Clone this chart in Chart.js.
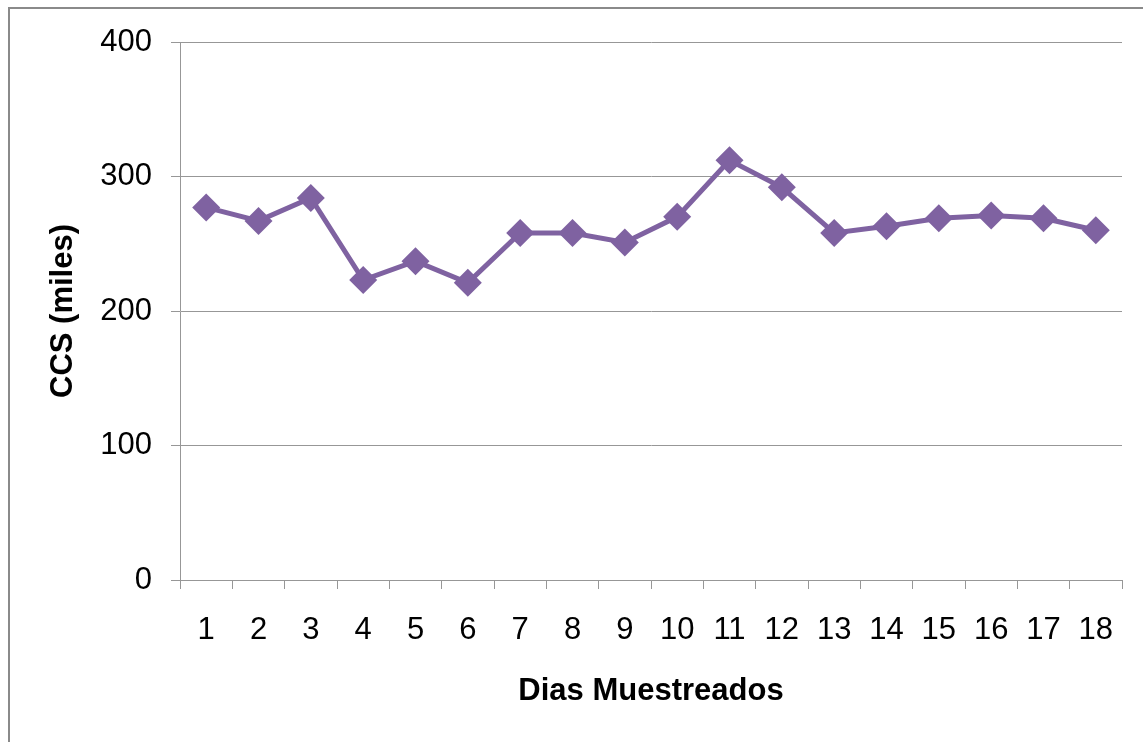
<!DOCTYPE html>
<html>
<head>
<meta charset="utf-8">
<script src="https://cdn.jsdelivr.net/npm/chart.js@4"></script>
<style>
  html, body { margin: 0; padding: 0; background: #fff; overflow: hidden; }
  #frame { position: absolute; left: 8px; top: 7px; width: 2000px; height: 2000px; border: 2px solid #8a8a8a; }
  #wrap { position: absolute; left: 0; top: 0; width: 1143px; height: 742px; }
</style>
</head>
<body>
<div id="frame"></div>
<div id="wrap"><canvas id="chart" width="1143" height="742"></canvas></div>
<script>
// dias muestreados y CCS (miles)
const dias = ["1","2","3","4","5","6","7","8","9","10","11","12","13","14","15","16","17","18"];
const ccs = [277, 267, 284, 223, 237, 221, 258, 258, 251, 270, 312, 292, 258, 263, 269, 271, 269, 260];
const yTicks = [0, 100, 200, 300, 400];

const font = "'Liberation Sans', Arial, sans-serif";
const gris = '#979797';

var ctx = document.getElementById('chart').getContext('2d');
var myChart = new Chart(ctx, {
    type: 'line',
    data: {
        labels: dias,
        datasets: [{
            label: 'CCS',
            data: ccs,
            borderColor: '#7F62A1',
            backgroundColor: '#7F62A1',
            borderWidth: 5,
            tension: 0,
            pointStyle: 'rectRot',
            pointRadius: 14,
            pointHoverRadius: 14,
            pointBorderWidth: 0
        }]
    },
    options: {
        responsive: false,
        animation: false,
        layout: { padding: { left: 10, top: 42, right: 21, bottom: 32 } },
        plugins: {
            legend: { display: false },
            tooltip: { enabled: false }
        },
        scales: {
            x: {
                offset: true,
                grid: { display: true, drawOnChartArea: false, drawTicks: true, tickLength: 9, offset: true, color: gris },
                border: { display: true, color: gris, width: 1 },
                ticks: { color: '#000', font: { family: font, size: 31 }, padding: 23, maxRotation: 0, autoSkip: false },
                title: { display: true, text: 'Dias Muestreados', color: '#000', font: { family: font, size: 31, weight: 'bold' }, padding: { top: 0, bottom: 0 } },
                afterFit: function(scale) { scale.height = 130; }
            },
            y: {
                min: 0,
                max: 400,
                afterBuildTicks: function(scale) { scale.ticks = yTicks.map(v => ({ value: v })); },
                grid: { color: gris, tickLength: 9 },
                border: { display: true, color: gris, width: 1 },
                ticks: { color: '#000', font: { family: font, size: 31 }, padding: 19 },
                title: { display: true, text: 'CCS (miles)', color: '#000', font: { family: font, size: 31, weight: 'bold' }, padding: { top: 35, bottom: 0 } },
                afterFit: function(scale) { scale.width = 170; }
            }
        }
    }
});
</script>
</body>
</html>
